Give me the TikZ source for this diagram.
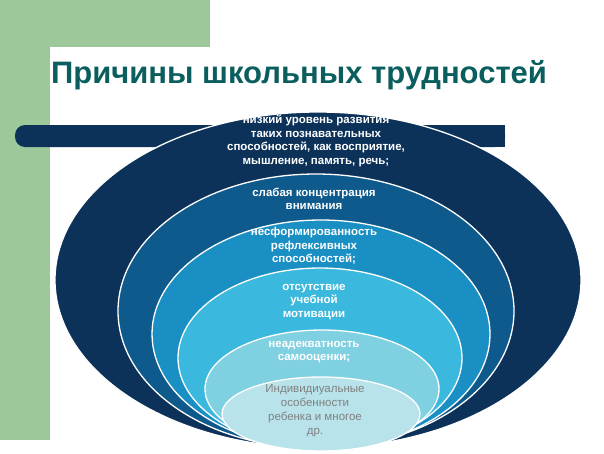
\documentclass[tikz,border=0pt]{standalone}
\usepackage{fontspec}
\setmainfont{Liberation Sans}
\definecolor{grn}{HTML}{9DC89A}
\definecolor{cA}{RGB}{12,50,89}
\definecolor{cB}{RGB}{15,90,140}
\definecolor{cC}{RGB}{26,143,196}
\definecolor{cD}{RGB}{59,184,221}
\definecolor{cE}{RGB}{127,208,224}
\definecolor{cF}{RGB}{184,227,234}
\definecolor{ttl}{RGB}{11,94,94}
\begin{document}
\begin{tikzpicture}[x=1pt,y=-1pt,
  lbl/.style={font=\bfseries\fontsize{11.5}{13.5}\selectfont,align=center,text=white,inner sep=0},
  ring/.style={draw=white,line width=1.3pt}]
\useasboundingbox (0,0) rectangle (604,453);
\fill[white] (0,0) rectangle (604,453);
\fill[grn] (0,0) rectangle (210,47);
\fill[grn] (0,0) rectangle (50,440);
\fill[white,rounded corners=12pt] (50,47) rectangle (260,120);
\node[font=\bfseries\fontsize{31}{34}\selectfont,text=ttl,inner sep=0] (title) at (299,75) {Причины школьных трудностей};
\fill[cA,rounded corners=10pt] (15,125) rectangle (505,147);
\fill[cA] (100,125) rectangle (505,147);
\filldraw[ring,fill=cA] (318,280) ellipse [x radius=263,y radius=168];
\filldraw[ring,fill=cB] (316,311) ellipse [x radius=198,y radius=137];
\filldraw[ring,fill=cC] (321,334) ellipse [x radius=169,y radius=114];
\filldraw[ring,fill=cD] (320,358) ellipse [x radius=142,y radius=90];
\filldraw[ring,fill=cE] (322,389) ellipse [x radius=117,y radius=59];
\filldraw[ring,fill=cF] (321,414) ellipse [x radius=99,y radius=37];
\node[lbl] (t1) at (316,141) {низкий уровень развития\\таких познавательных\\способностей, как восприятие,\\мышление, память, речь;};
\node[lbl] (t2) at (314,199) {слабая концентрация\\внимания};
\node[lbl] (t3) at (314,246) {несформированность\\рефлексивных\\способностей;};
\node[lbl] (t4) at (314,302) {отсутствие\\учебной\\мотивации};
\node[lbl] (t5) at (314,352) {неадекватность\\самооценки;};
\node[lbl,text=gray,font=\fontsize{11.5}{14}\selectfont] (t6) at (315,411) {Индивидиуальные\\особенности\\ребенка и многое\\др.};
\end{tikzpicture}
\end{document}
